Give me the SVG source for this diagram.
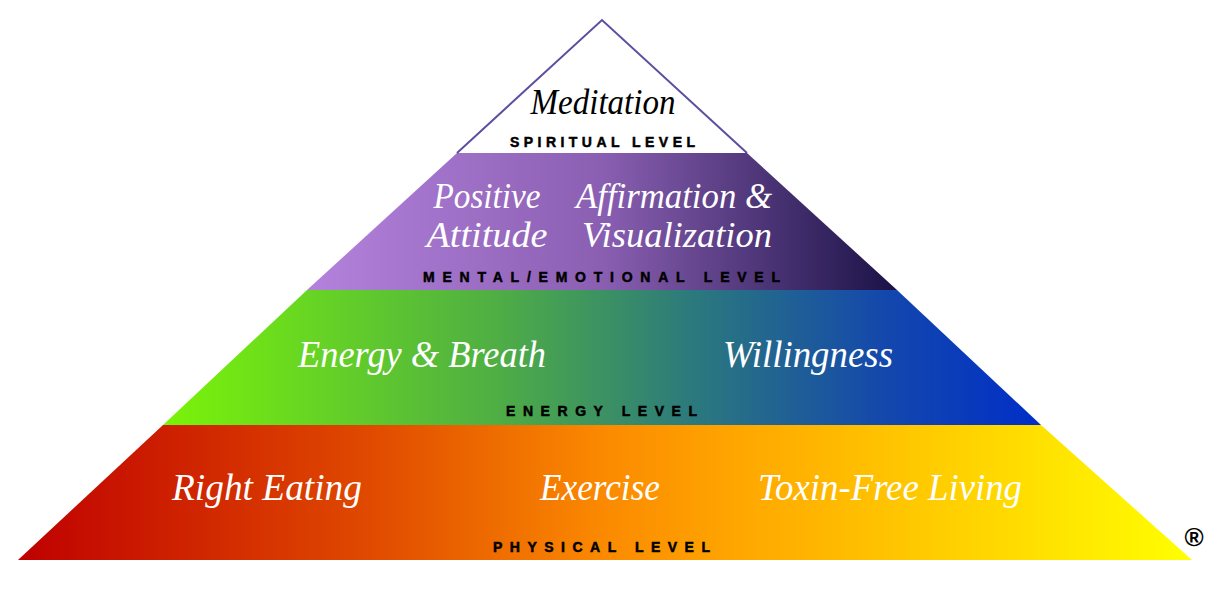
<svg xmlns="http://www.w3.org/2000/svg" width="1224" height="597" viewBox="0 0 1224 597">
  <style>
    .script { font-family: "Liberation Serif", "DejaVu Serif", serif; font-style: italic; fill: #ffffff; font-size: 37px; }
    .dark { fill: #000000; }
    .lvl { font-family: "Liberation Sans", Arial, sans-serif; font-weight: bold; font-size: 14px; fill: #000000; stroke: #000000; stroke-width: 0.5px; }
  </style>
  <defs>
    <linearGradient id="gMental" gradientUnits="userSpaceOnUse" x1="307" y1="0" x2="897" y2="0">
      <stop offset="0" stop-color="#b482dc"/>
      <stop offset="0.5" stop-color="#8a5fb2"/>
      <stop offset="1" stop-color="#1a1246"/>
    </linearGradient>
    <linearGradient id="gEnergy" gradientUnits="userSpaceOnUse" x1="163" y1="0" x2="1041" y2="0">
      <stop offset="0" stop-color="#7af408"/>
      <stop offset="0.38" stop-color="#4fae44"/>
      <stop offset="0.6" stop-color="#2c7a7c"/>
      <stop offset="0.82" stop-color="#1448ac"/>
      <stop offset="1" stop-color="#002ec8"/>
    </linearGradient>
    <linearGradient id="gPhysical" gradientUnits="userSpaceOnUse" x1="18" y1="0" x2="1192" y2="0">
      <stop offset="0" stop-color="#bf0000"/>
      <stop offset="0.3" stop-color="#e04a00"/>
      <stop offset="0.5" stop-color="#fb8a00"/>
      <stop offset="0.62" stop-color="#ffa800"/>
      <stop offset="0.85" stop-color="#ffdc00"/>
      <stop offset="1" stop-color="#ffff00"/>
    </linearGradient>
  </defs>
  <rect width="1224" height="597" fill="#ffffff"/>

  <g id="physical">
    <polygon points="163,425 1041,425 1192,560 18,560" fill="url(#gPhysical)"/>
    <text class="script" x="267" y="500" text-anchor="middle" textLength="190" lengthAdjust="spacingAndGlyphs">Right Eating</text>
    <text class="script" x="600" y="500" text-anchor="middle" textLength="120" lengthAdjust="spacingAndGlyphs">Exercise</text>
    <text class="script" x="890" y="500" text-anchor="middle" textLength="264" lengthAdjust="spacingAndGlyphs">Toxin-Free Living</text>
    <text class="lvl" x="493" y="552" textLength="217" lengthAdjust="spacing">PHYSICAL LEVEL</text>
  </g>

  <g id="energy">
    <polygon points="307,290 897,290 1041,425 163,425" fill="url(#gEnergy)"/>
    <text class="script" x="422" y="367" text-anchor="middle" textLength="248" lengthAdjust="spacingAndGlyphs">Energy &amp; Breath</text>
    <text class="script" x="808" y="367" text-anchor="middle" textLength="170" lengthAdjust="spacingAndGlyphs">Willingness</text>
    <text class="lvl" x="506" y="416" textLength="191" lengthAdjust="spacing">ENERGY LEVEL</text>
  </g>

  <g id="mental">
    <polygon points="457,153 747,153 897,290 307,290" fill="url(#gMental)"/>
    <text class="script" x="487" y="208" text-anchor="middle" textLength="107" lengthAdjust="spacingAndGlyphs" style="font-size:35px">Positive</text>
    <text class="script" x="487" y="247" text-anchor="middle" textLength="121" lengthAdjust="spacingAndGlyphs" style="font-size:35px">Attitude</text>
    <text class="script" x="674" y="208" text-anchor="middle" textLength="196" lengthAdjust="spacingAndGlyphs" style="font-size:35px">Affirmation &amp;</text>
    <text class="script" x="677" y="247" text-anchor="middle" textLength="190" lengthAdjust="spacingAndGlyphs" style="font-size:35px">Visualization</text>
    <text class="lvl" x="423" y="282" textLength="357" lengthAdjust="spacing">MENTAL/EMOTIONAL LEVEL</text>
  </g>

  <g id="spiritual">
    <polygon points="602,20 747,153 457,153" fill="#ffffff"/>
    <polyline points="457,153 602,20 747,153" fill="none" stroke="#5b4fa0" stroke-width="2" stroke-linejoin="miter"/>
    <text class="script dark" x="603" y="114" text-anchor="middle" textLength="145" lengthAdjust="spacingAndGlyphs" style="font-size:35px">Meditation</text>
    <text class="lvl" x="510" y="147" textLength="185" lengthAdjust="spacing">SPIRITUAL LEVEL</text>
  </g>

  <g id="connectors"></g>

  <text x="1194" y="546" text-anchor="middle" style="font-family:'Liberation Sans',Arial,sans-serif;font-weight:bold;font-size:26px;fill:#000">®</text>
</svg>
